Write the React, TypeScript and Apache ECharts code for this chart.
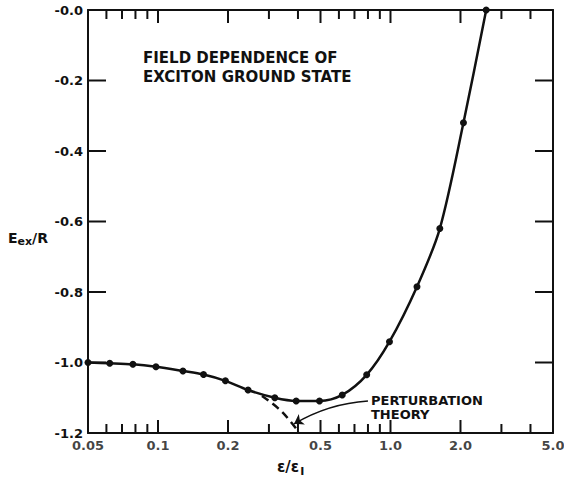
import React, { useEffect, useRef } from 'react';
import * as echarts from 'echarts';

// Axis ranges
const X_MIN = 0.05;
const X_MAX = 5.0;
const Y_MIN = -1.2;
const Y_MAX = 0;
const Y_STEP = 0.2;

// Ticks and tick labels
const X_LABEL_VALUES = [0.05, 0.1, 0.2, 0.5, 1.0, 2.0, 5.0];
const X_LABELS = ['0.05', '0.1', '0.2', '0.5', '1.0', '2.0', '5.0'];
const X_MAJOR_TICKS = [0.1, 0.2, 0.5, 1.0, 2.0];
const X_MINOR_TICKS = [0.06, 0.07, 0.08, 0.09, 0.3, 0.4, 0.6, 0.7, 0.8, 0.9, 3, 4];
const Y_TICKS = [-1.0, -0.8, -0.6, -0.4, -0.2];

// Exciton ground state (field ε/ε_I, energy E_ex/R)
const FIELD = [0.05, 0.062, 0.078, 0.098, 0.128, 0.157, 0.195, 0.244, 0.318, 0.393, 0.495, 0.62, 0.79, 0.99, 1.3, 1.63, 2.06, 2.58];
const ENERGY = [-1.0, -1.002, -1.005, -1.012, -1.024, -1.034, -1.052, -1.078, -1.1, -1.109, -1.109, -1.092, -1.035, -0.941, -0.785, -0.62, -0.32, 0.0];

// Perturbation theory (dashed)
const PERT_FIELD = [0.28, 0.33, 0.37, 0.405];
const PERT_ENERGY = [-1.095, -1.131, -1.166, -1.2];

// Arrow annotation (tail -> head), data coordinates
const ARROW_FIELD = [0.8, 0.385];
const ARROW_ENERGY = [-1.109, -1.174];

// log scale measured in decades above X_MIN (so the left edge is 0)
const lx = (v: number) => Math.log10(v / X_MIN);
const INK = '#111';
const FONT = 'DejaVu Sans';
const MAJOR_LEN = 13;
const MINOR_LEN = 9;
const Y_TICK_LEN = 18;

function xAxisDef(position: 'top' | 'bottom') {
  return {
    type: 'value',
    position,
    min: lx(X_MIN),
    max: lx(X_MAX),
    axisLine: { show: true, onZero: position === 'top', lineStyle: { color: INK, width: 2 } },
    splitLine: { show: false },
    axisTick: { show: false },
    axisLabel: { show: false },
  } as any;
}

function yAxisDef(position: 'left' | 'right', labels: boolean) {
  return {
    type: 'value',
    position,
    min: Y_MIN,
    max: Y_MAX,
    interval: Y_STEP,
    axisLine: { show: true, onZero: position === 'left', lineStyle: { color: INK, width: 2 } },
    axisTick: { show: false },
    splitLine: { show: false },
    axisLabel: labels
      ? {
          show: true,
          color: INK,
          fontFamily: FONT,
          fontWeight: 'bold',
          fontSize: 13,
          margin: 5,
          formatter: (v: number) => (Math.abs(v) < 1e-9 ? '-0.0' : v.toFixed(1)),
        }
      : { show: false },
  } as any;
}

const tickStyle = { stroke: INK, lineWidth: 2 };

export default function App() {
  const ref = useRef<HTMLDivElement>(null);
  useEffect(() => {
    const chart = echarts.init(ref.current!, null, { renderer: 'svg' });
    const option: any = {
      animation: false,
      backgroundColor: '#fff',
      grid: { left: 88, right: 11, top: 10, bottom: 52 },
      xAxis: [xAxisDef('bottom'), xAxisDef('top')],
      yAxis: [yAxisDef('left', true), yAxisDef('right', false)],
      series: [
        {
          // inward ticks on bottom and top edges, placed through the x scale
          type: 'custom',
          xAxisIndex: 0,
          yAxisIndex: 0,
          silent: true,
          data: [
            ...X_MAJOR_TICKS.map((v) => [lx(v), MAJOR_LEN]),
            ...X_MINOR_TICKS.map((v) => [lx(v), MINOR_LEN]),
          ],
          renderItem: (_p: any, api: any) => {
            const x = api.value(0);
            const len = api.value(1);
            const b = api.coord([x, Y_MIN]);
            const t = api.coord([x, Y_MAX]);
            return {
              type: 'group',
              children: [
                { type: 'line', shape: { x1: b[0], y1: b[1], x2: b[0], y2: b[1] - len }, style: tickStyle },
                { type: 'line', shape: { x1: t[0], y1: t[1], x2: t[0], y2: t[1] + len }, style: tickStyle },
              ],
            };
          },
          z: 1,
        },
        {
          // inward ticks on left and right edges, placed through the y scale
          type: 'custom',
          xAxisIndex: 0,
          yAxisIndex: 0,
          silent: true,
          data: Y_TICKS.map((v) => [lx(X_MIN), v]),
          renderItem: (_p: any, api: any) => {
            const y = api.value(1);
            const l = api.coord([lx(X_MIN), y]);
            const r = api.coord([lx(X_MAX), y]);
            return {
              type: 'group',
              children: [
                { type: 'line', shape: { x1: l[0], y1: l[1], x2: l[0] + Y_TICK_LEN, y2: l[1] }, style: tickStyle },
                { type: 'line', shape: { x1: r[0], y1: r[1], x2: r[0] - Y_TICK_LEN, y2: r[1] }, style: tickStyle },
              ],
            };
          },
          z: 1,
        },
        {
          type: 'line',
          xAxisIndex: 0,
          yAxisIndex: 0,
          data: FIELD.map((f, i) => [lx(f), ENERGY[i]]),
          smooth: 0.3,
          symbol: 'circle',
          symbolSize: 7,
          lineStyle: { color: INK, width: 2.5 },
          itemStyle: { color: INK },
          z: 3,
        },
        {
          type: 'line',
          xAxisIndex: 0,
          yAxisIndex: 0,
          data: PERT_FIELD.map((f, i) => [lx(f), PERT_ENERGY[i]]),
          smooth: true,
          symbol: 'none',
          lineStyle: { color: INK, width: 2.5, type: [8, 5] },
          z: 2,
        },
        {
          type: 'lines',
          coordinateSystem: 'cartesian2d',
          xAxisIndex: 0,
          yAxisIndex: 0,
          symbol: ['none', 'arrow'],
          symbolSize: 9,
          lineStyle: { color: INK, width: 1.5, curveness: -0.12, opacity: 1 },
          data: [
            {
              coords: [
                [lx(ARROW_FIELD[0]), ARROW_ENERGY[0]],
                [lx(ARROW_FIELD[1]), ARROW_ENERGY[1]],
              ],
            },
          ],
          z: 4,
        },
        {
          // x-axis tick labels, placed through the x scale at the bottom edge
          type: 'scatter',
          xAxisIndex: 0,
          yAxisIndex: 0,
          clip: false,
          silent: true,
          symbolSize: 0,
          data: X_LABEL_VALUES.map((v) => [lx(v), Y_MIN]),
          label: {
            show: true,
            position: 'bottom',
            distance: 6,
            formatter: (p: any) => X_LABELS[p.dataIndex],
            color: INK,
            fontFamily: FONT,
            fontWeight: 'bold',
            fontSize: 13,
          },
          labelLayout: { hideOverlap: false },
          z: 5,
        },
      ],
      graphic: [
        {
          type: 'text',
          left: 143,
          top: 48,
          style: {
            text: 'FIELD DEPENDENCE OF\nEXCITON GROUND STATE',
            font: `bold 15px "${FONT}"`,
            lineHeight: 19,
            fill: INK,
          },
        },
        {
          type: 'text',
          left: 371,
          top: 393,
          style: {
            text: 'PERTURBATION\nTHEORY',
            font: `bold 13px "${FONT}"`,
            lineHeight: 14,
            fill: INK,
          },
        },
        {
          type: 'text',
          left: 8,
          top: 228,
          style: {
            text: '{m|E}{s|ex}{m|/R}',
            rich: {
              m: { font: `bold 14px "${FONT}"`, fill: INK, lineHeight: 18 },
              s: { font: `bold 11px "${FONT}"`, fill: INK, lineHeight: 18, padding: [8, 0, 0, 0] },
            },
          },
        },
        {
          type: 'text',
          left: 277,
          top: 457,
          style: {
            text: '{m|ε/ε}{s|I}',
            rich: {
              m: { font: `bold 15px "${FONT}"`, fill: INK, lineHeight: 18 },
              s: { font: `bold 11px "${FONT}"`, fill: INK, lineHeight: 18, padding: [9, 0, 0, 1] },
            },
          },
        },
      ],
    };
    chart.setOption(option);
    return () => chart.dispose();
  }, []);
  return <div ref={ref} style={{ position: 'fixed', left: 0, top: 0, width: 564, height: 485 }} />;
}
